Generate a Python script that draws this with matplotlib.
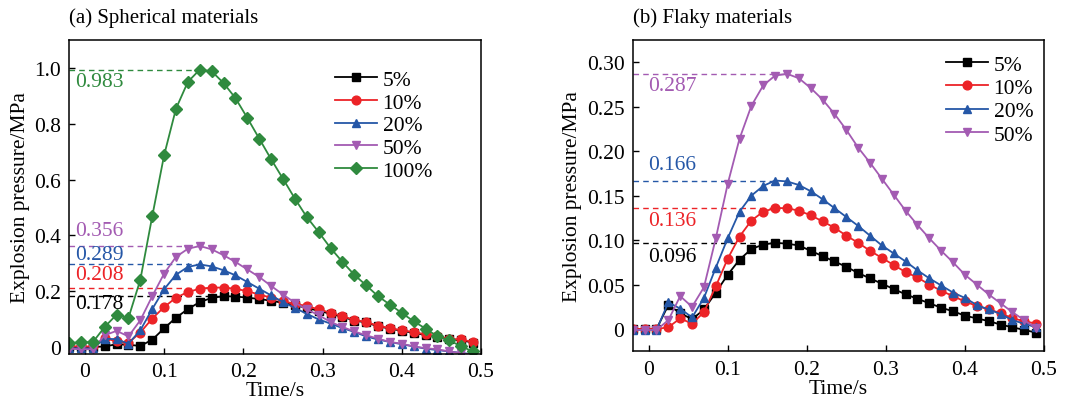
import numpy as np
import matplotlib.pyplot as plt

plt.rcParams['font.family'] = ['Liberation Serif', 'DejaVu Serif']
plt.rcParams['font.size'] = 15.5

# czas próbkowania (s)
t = [-0.02, -0.005, 0.01, 0.025, 0.04, 0.055, 0.07, 0.085, 0.1, 0.115,
     0.13, 0.145, 0.16, 0.175, 0.19, 0.205, 0.22, 0.235, 0.25, 0.265,
     0.28, 0.295, 0.31, 0.325, 0.34, 0.355, 0.37, 0.385, 0.4, 0.415,
     0.43, 0.445, 0.46, 0.475, 0.49]

# (a) materiały sferyczne
sph_5 = [0.0, 0.0, 0.0, 0.002, 0.01, 0.008, 0.004, 0.026, 0.067, 0.105,
         0.136, 0.161, 0.176, 0.182, 0.181, 0.177, 0.172, 0.166, 0.158, 0.15,
         0.14, 0.13, 0.119, 0.108, 0.095, 0.088, 0.074, 0.066, 0.058, 0.051,
         0.043, 0.035, 0.027, 0.024, 0.016]
sph_10 = [0.003, 0.002, 0.002, 0.032, 0.02, 0.015, 0.052, 0.102, 0.143, 0.177,
          0.197, 0.209, 0.213, 0.213, 0.209, 0.2, 0.188, 0.177, 0.164, 0.155,
          0.147, 0.135, 0.123, 0.111, 0.097, 0.09, 0.076, 0.068, 0.06, 0.054,
          0.045, 0.038, 0.03, 0.027, 0.018]
sph_20 = [-0.004, -0.005, -0.005, 0.03, 0.028, 0.012, 0.06, 0.136, 0.207, 0.259,
          0.287, 0.296, 0.289, 0.275, 0.257, 0.233, 0.209, 0.185, 0.161, 0.14,
          0.119, 0.099, 0.084, 0.068, 0.054, 0.038, 0.027, 0.018, 0.01, 0.002,
          -0.006, -0.011, -0.016, -0.021, -0.026]
sph_50 = [-0.006, -0.008, -0.008, 0.042, 0.058, 0.038, 0.096, 0.182, 0.263, 0.323,
          0.352, 0.362, 0.35, 0.329, 0.305, 0.278, 0.251, 0.219, 0.188, 0.159,
          0.135, 0.114, 0.09, 0.072, 0.056, 0.042, 0.03, 0.018, 0.012, 0.002,
          -0.004, -0.008, -0.016, -0.022, -0.028]
sph_100 = [0.014, 0.017, 0.017, 0.072, 0.116, 0.104, 0.241, 0.468, 0.687, 0.854,
           0.95, 0.994, 0.988, 0.946, 0.892, 0.821, 0.747, 0.673, 0.603, 0.532,
           0.466, 0.412, 0.355, 0.305, 0.259, 0.221, 0.182, 0.152, 0.122, 0.092,
           0.066, 0.038, 0.024, 0.002, -0.016]

# (b) materiały płatkowe
fl_5 = [0.0, 0.0, 0.0, 0.027, 0.018, 0.011, 0.022, 0.041, 0.061, 0.078,
        0.09, 0.095, 0.097, 0.096, 0.094, 0.088, 0.082, 0.076, 0.07, 0.063,
        0.057, 0.051, 0.045, 0.039, 0.034, 0.029, 0.024, 0.02, 0.015, 0.012,
        0.009, 0.005, 0.002, -0.001, -0.004]
fl_10 = [0.0, 0.0, 0.0, 0.002, 0.012, 0.006, 0.019, 0.048, 0.079, 0.104,
         0.122, 0.132, 0.136, 0.136, 0.133, 0.128, 0.121, 0.114, 0.105, 0.097,
         0.088, 0.08, 0.072, 0.064, 0.058, 0.05, 0.043, 0.037, 0.031, 0.026,
         0.022, 0.018, 0.012, 0.009, 0.006]
fl_20 = [-0.001, -0.001, -0.001, 0.03, 0.023, 0.013, 0.035, 0.069, 0.102, 0.132,
         0.15, 0.161, 0.167, 0.166, 0.162, 0.155, 0.146, 0.136, 0.126, 0.116,
         0.105, 0.094, 0.085, 0.076, 0.066, 0.057, 0.049, 0.041, 0.035, 0.027,
         0.022, 0.017, 0.01, 0.006, 0.002]
fl_50 = [-0.001, -0.001, -0.001, 0.01, 0.037, 0.025, 0.047, 0.102, 0.163, 0.214,
         0.251, 0.274, 0.285, 0.287, 0.282, 0.271, 0.258, 0.242, 0.224, 0.204,
         0.187, 0.169, 0.151, 0.133, 0.117, 0.102, 0.088, 0.075, 0.061, 0.05,
         0.039, 0.029, 0.019, 0.01, 0.001]

kolory = {'5%': 'black', '10%': '#ec2327', '20%': '#2557a7', '50%': '#a35bb2', '100%': '#2f8a3e'}
markery = {'5%': 's', '10%': 'o', '20%': '^', '50%': 'v', '100%': 'D'}

seria_a = [('5%', sph_5), ('10%', sph_10), ('20%', sph_20), ('50%', sph_50), ('100%', sph_100)]
seria_b = [('5%', fl_5), ('10%', fl_10), ('20%', fl_20), ('50%', fl_50)]

etykiety_a = {'5%': ('0.178', 0.155), '10%': ('0.208', 0.259), '20%': ('0.289', 0.331),
              '50%': ('0.356', 0.416), '100%': ('0.983', 0.952)}
etykiety_b = {'5%': ('0.096', 0.082), '10%': ('0.136', 0.122), '20%': ('0.166', 0.185),
              '50%': ('0.287', 0.274)}

fig = plt.figure(figsize=(10.75, 4.06), dpi=100)
ax1 = fig.add_axes([0.0642, 0.1256, 0.3833, 0.7734])
ax2 = fig.add_axes([0.5886, 0.1323, 0.3826, 0.7667])


def rysuj(ax, seria, etykiety, xlab_x, ylim, yticks, ytlabels, tytul, leg_anchor, odstep):
    for nazwa, y in seria:
        ax.plot(t, y, color=kolory[nazwa], marker=markery[nazwa], markersize=6.3,
                linewidth=1.3, label=nazwa)
    for nazwa, y in seria:
        i = int(np.argmax(y))
        ax.plot([-0.02, t[i]], [y[i], y[i]], linestyle=(0, (4, 3)), color=kolory[nazwa],
                linewidth=1.0, zorder=1)
        tekst, ty = etykiety[nazwa]
        ax.text(xlab_x, ty, tekst, color=kolory[nazwa], va='center', ha='left')
    ax.set_xlim(-0.02, 0.5)
    ax.set_ylim(*ylim)
    ax.set_xticks([0, 0.1, 0.2, 0.3, 0.4, 0.5])
    ax.set_xticklabels(['0', '0.1', '0.2', '0.3', '0.4', '0.5'])
    ax.set_yticks(yticks)
    ax.set_yticklabels(ytlabels)
    ax.tick_params(direction='in', length=4.5, width=1.0, pad=6)
    for s in ax.spines.values():
        s.set_linewidth(1.1)
    ax.set_xlabel('Time/s', labelpad=0)
    ax.set_ylabel('Explosion pressure/MPa', labelpad=3)
    ax.set_title(tytul, loc='left', fontsize=15, pad=13)
    ax.legend(loc='upper left', bbox_to_anchor=leg_anchor, frameon=False,
              handlelength=1.95, handletextpad=0.25, labelspacing=odstep,
              borderaxespad=0, borderpad=0)


rysuj(ax1, seria_a, etykiety_a, -0.012, (-0.025, 1.1),
      [0, 0.2, 0.4, 0.6, 0.8, 1.0], ['0', '0.2', '0.4', '0.6', '0.8', '1.0'],
      '(a) Spherical materials', (0.646, 0.905), 0.12)
rysuj(ax2, seria_b, etykiety_b, 0.0, (-0.025, 0.325),
      [0, 0.05, 0.10, 0.15, 0.20, 0.25, 0.30],
      ['0', '0.05', '0.10', '0.15', '0.20', '0.25', '0.30'],
      '(b) Flaky materials', (0.762, 0.953), 0.15)

plt.savefig('out.png', dpi=100)
